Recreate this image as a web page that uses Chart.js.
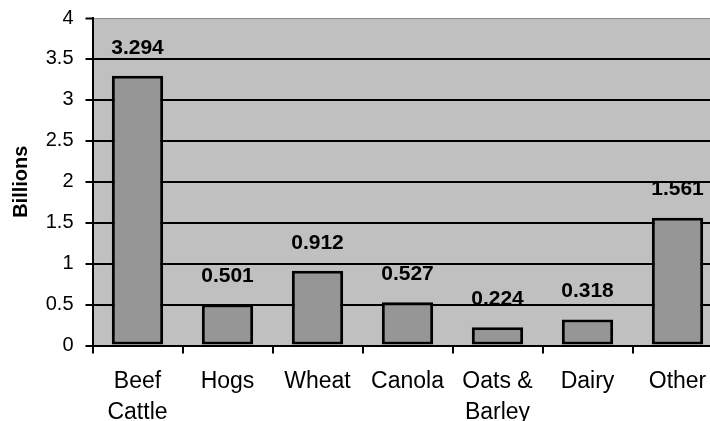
<!DOCTYPE html>
<html>
<head>
<meta charset="utf-8">
<script src="https://cdn.jsdelivr.net/npm/chart.js@4.4.1/dist/chart.umd.min.js"></script>
<style>
  html, body { margin: 0; padding: 0; background: #ffffff; overflow: hidden; }
  #wrap { width: 726px; height: 421px; position: relative; }
</style>
</head>
<body>
<div id="wrap"><canvas id="c" width="726" height="421"></canvas></div>
<script>
const categories = [["Beef", "Cattle"], "Hogs", "Wheat", "Canola", ["Oats &", "Barley"], "Dairy", "Other"];
const values = [3.294, 0.501, 0.912, 0.527, 0.224, 0.318, 1.561];
const valueLabels = ["3.294", "0.501", "0.912", "0.527", "0.224", "0.318", "1.561"];
const yTicks = [0, 0.5, 1, 1.5, 2, 2.5, 3, 3.5, 4];
const yTitle = "Billions";

const FONT = '"Liberation Sans", Arial, sans-serif';

const bgPlugin = {
  id: 'plotBg',
  beforeDraw(chart) {
    const a = chart.chartArea, ctx = chart.ctx;
    ctx.save();
    ctx.fillStyle = '#C0C0C0';
    ctx.fillRect(a.left, a.top, a.right - a.left, a.bottom - a.top);
    ctx.restore();
  }
};

const labelPlugin = {
  id: 'valLabels',
  afterDatasetsDraw(chart) {
    const ctx = chart.ctx;
    const meta = chart.getDatasetMeta(0);
    ctx.save();
    ctx.font = 'bold 21px ' + FONT;
    ctx.fillStyle = '#000';
    ctx.textAlign = 'center';
    ctx.textBaseline = 'middle';
    meta.data.forEach((bar, i) => {
      ctx.fillText(valueLabels[i], bar.x, bar.y - 28);
    });
    ctx.restore();
  }
};

new Chart(document.getElementById('c'), {
  type: 'bar',
  data: {
    labels: categories,
    datasets: [{
      data: values,
      backgroundColor: '#969696',
      borderColor: '#000000',
      borderWidth: 3,
      borderSkipped: false,
      barPercentage: 0.57,
      categoryPercentage: 1.0
    }]
  },
  options: {
    responsive: false,
    animation: false,
    devicePixelRatio: 1,
    layout: { padding: { top: 18, right: 3.5, left: 0, bottom: 0 } },
    plugins: {
      legend: { display: false },
      tooltip: { enabled: false }
    },
    scales: {
      x: {
        offset: true,
        grid: {
          offset: true,
          drawOnChartArea: false,
          drawTicks: true,
          tickLength: 8,
          color: '#000',
          lineWidth: 2
        },
        border: { display: true, color: '#000', width: 2 },
        ticks: {
          color: '#000',
          font: { family: FONT, size: 23, lineHeight: 1.35 },
          padding: 13,
          maxRotation: 0,
          autoSkip: false
        },
        afterFit(scale) { scale.height = 75.5; scale.paddingLeft = 0; scale.paddingRight = 0; }
      },
      y: {
        min: 0,
        max: 4,
        afterBuildTicks(scale) { scale.ticks = yTicks.map(v => ({ value: v })); },
        grid: {
          color: (c) => (c.tick && c.tick.value === 4) ? '#8a8a8a' : '#000',
          lineWidth: (c) => (c.tick && c.tick.value === 4) ? 1 : 2,
          tickColor: '#000',
          tickWidth: 2,
          tickLength: 7
        },
        border: { display: true, color: '#000', width: 2 },
        ticks: {
          color: '#000',
          font: { family: FONT, size: 20 },
          padding: 12,
          callback: (v) => String(v)
        },
        title: {
          display: true,
          text: yTitle,
          color: '#000',
          font: { family: FONT, size: 20, weight: 'bold' },
          padding: { top: 9, bottom: 0 }
        },
        afterFit(scale) { scale.width = 92.5; scale.paddingTop = 0; scale.paddingBottom = 0; }
      }
    }
  },
  plugins: [bgPlugin, labelPlugin]
});
</script>
</body>
</html>
